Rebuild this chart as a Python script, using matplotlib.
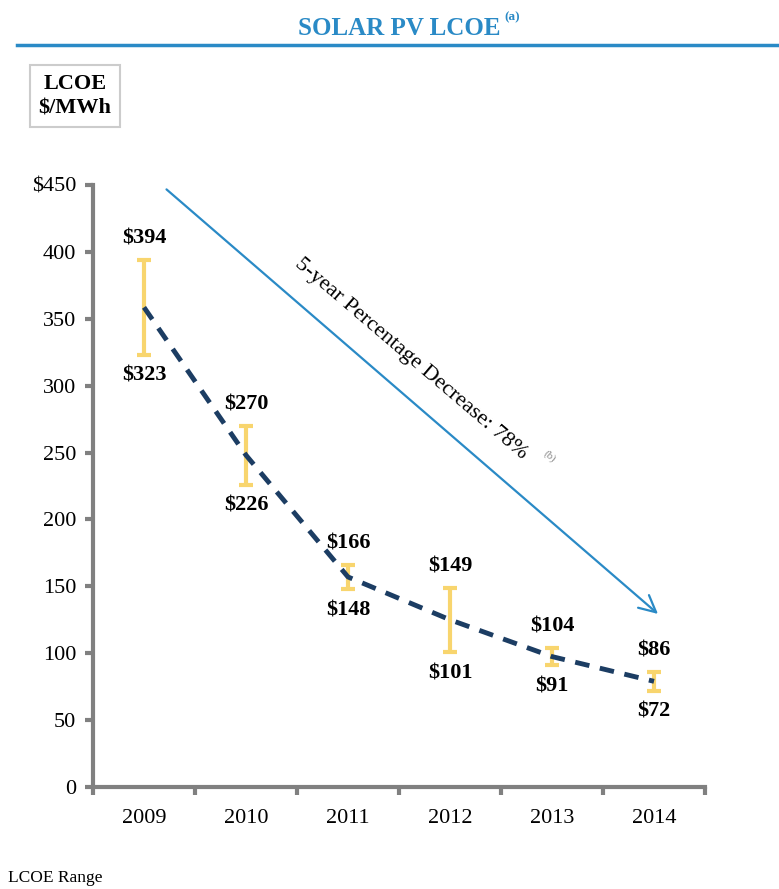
import matplotlib.pyplot as plt
from matplotlib.lines import Line2D

# LCOE range per year, $/MWh
years = ["2009", "2010", "2011", "2012", "2013", "2014"]
lcoe_high = [394, 270, 166, 149, 104, 86]
lcoe_low = [323, 226, 148, 101, 91, 72]
yticks = [0, 50, 100, 150, 200, 250, 300, 350, 400, 450]
ytick_labels = ["0", "50", "100", "150", "200", "250", "300", "350", "400", "$450"]

SERIF = ["Liberation Serif", "DejaVu Serif"]
BLUE = "#2a8ac6"
NAVY = "#1c3d63"
GOLD = "#f8d56e"
GRAY = "#808080"

plt.rcParams["font.family"] = SERIF

fig = plt.figure(figsize=(7.79, 8.89), dpi=100)
ax = fig.add_axes([0.1194, 0.1147, 0.7856, 0.6773])

x = list(range(len(years)))
mids = [(h + l) / 2 for h, l in zip(lcoe_high, lcoe_low)]

# range bars
ax.vlines(x, lcoe_low, lcoe_high, color=GOLD, lw=3, zorder=2)
ax.hlines(lcoe_high, [i - 0.07 for i in x], [i + 0.07 for i in x], color=GOLD, lw=3, zorder=2)
ax.hlines(lcoe_low, [i - 0.07 for i in x], [i + 0.07 for i in x], color=GOLD, lw=3, zorder=2)

# trend through the middle of each range
ax.plot(x, mids, color=NAVY, lw=3.5, ls=(0, (3, 2.2)), zorder=3)

for i, (h, l) in enumerate(zip(lcoe_high, lcoe_low)):
    ax.annotate(f"${h}", (i, h), xytext=(0, 8), textcoords="offset points",
                ha="center", va="bottom", fontsize=16, fontweight="bold")
    ax.annotate(f"${l}", (i, l), xytext=(0, -8), textcoords="offset points",
                ha="center", va="top", fontsize=16, fontweight="bold")

# 5-year decrease arrow
ax.annotate("", xy=(5.06, 128), xytext=(0.2, 448),
            arrowprops=dict(arrowstyle="->", color=BLUE, lw=1.6, mutation_scale=30))
ax.text(2.62, 320, "5-year Percentage Decrease: 78%", rotation=-40.5,
        rotation_mode="anchor", ha="center", va="center", fontsize=16)
ax.text(3.98, 247, "(b)", rotation=-40.5, rotation_mode="anchor",
        ha="center", va="center", fontsize=8, color="#888888")

ax.set_xlim(-0.5, 5.5)
ax.set_ylim(0, 450)
ax.set_yticks(yticks)
ax.set_yticklabels(ytick_labels, fontsize=16)
ax.set_xticks(x)
ax.set_xticklabels(years, fontsize=16)
ax.set_xticks([i - 0.5 for i in range(len(years) + 1)], minor=True)
ax.tick_params(axis="x", which="major", length=0, pad=16)
ax.tick_params(axis="x", which="minor", length=6, width=3, color=GRAY)
ax.tick_params(axis="y", length=6, width=3, color=GRAY, pad=6)

for side in ("top", "right"):
    ax.spines[side].set_visible(False)
for side in ("left", "bottom"):
    ax.spines[side].set_color(GRAY)
    ax.spines[side].set_linewidth(3)

# header
fig.text(0.512, 0.968, "SOLAR PV LCOE", ha="center", va="center",
         fontsize=18, fontweight="bold", color=BLUE)
fig.text(0.657, 0.981, "(a)", ha="center", va="center", fontsize=9.5,
         fontweight="bold", color=BLUE)
fig.add_artist(Line2D([0.022, 1.0], [0.949, 0.949], color=BLUE, lw=2.5,
                      transform=fig.transFigure))

fig.text(0.0963, 0.892, "LCOE\n$/MWh", ha="center", va="center", fontsize=16,
         fontweight="bold", linespacing=1.3,
         bbox=dict(boxstyle="square,pad=0.4", fc="white", ec="#cccccc", lw=1.5))

fig.text(0.01, 0.012, "LCOE Range", ha="left", va="center", fontsize=12.5)

fig.savefig("out.png", dpi=100)
